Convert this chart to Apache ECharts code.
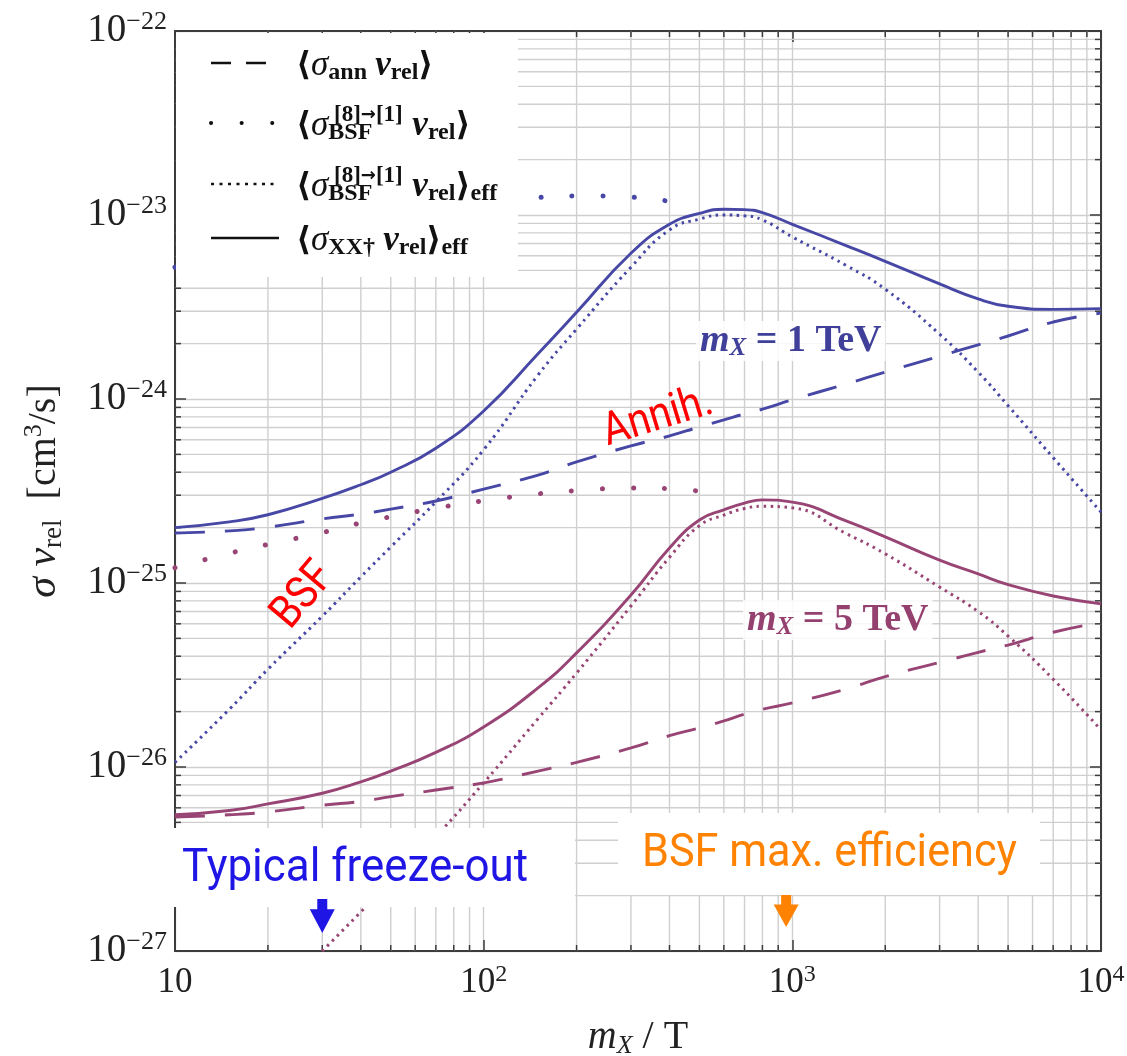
<!DOCTYPE html>
<html>
<head>
<meta charset="utf-8">
<script src="https://cdn.jsdelivr.net/npm/echarts@6/dist/echarts.min.js"></script>
<style>
  html, body { margin: 0; padding: 0; background: #fff; }
  #chart { width: 1127px; height: 1056px; }
</style>
</head>
<body>
<div id="chart"></div>
<script>
(function (echarts) {
    'use strict';

    // m_X / T sample points
    const mxOverT = [10, 15, 20, 30, 40, 50, 70, 100, 150, 200, 300, 400, 500, 600, 700, 800, 1000, 1500, 2000, 3000, 4000, 5000, 7000, 10000];

    // m_X = 1 TeV, cm^3/s
    const annih1TeV = [1.87e-25, 1.92e-25, 2.01e-25, 2.23e-25, 2.37e-25, 2.52e-25, 2.79e-25, 3.24e-25, 3.86e-25, 4.55e-25, 5.56e-25, 6.3e-25, 7.05e-25, 7.7e-25, 8.3e-25, 8.8e-25, 9.9e-25, 1.21e-24, 1.40e-24, 1.71e-24, 1.97e-24, 2.2e-24, 2.62e-24, 2.93e-24];
    const bsfEff1TeV = [1.06e-26, 2.06e-26, 3.4e-26, 6.6e-26, 1.08e-25, 1.57e-25, 2.76e-25, 5.3e-25, 1.35e-24, 2.4e-24, 5.2e-24, 8.3e-24, 9.5e-24, 1.0e-23, 9.9e-24, 9.4e-24, 7.6e-24, 5.3e-24, 3.95e-24, 2.25e-24, 1.4e-24, 9.2e-25, 4.8e-25, 2.43e-25];
    const total1TeV = [2.0e-25, 2.15e-25, 2.35e-25, 2.88e-25, 3.42e-25, 4.0e-25, 5.4e-25, 8.6e-25, 1.76e-24, 2.96e-24, 6.2e-24, 8.9e-24, 1.02e-23, 1.075e-23, 1.07e-23, 1.03e-23, 8.9e-24, 6.8e-24, 5.6e-24, 4.22e-24, 3.5e-24, 3.19e-24, 3.07e-24, 3.1e-24];
    const mxBare1TeV = [10, 15, 20, 30, 40, 50, 70, 100, 150, 200, 300, 400, 470];
    const bsfBare1TeV = [5.2e-24, 6.3e-24, 7.1e-24, 8.1e-24, 9.1e-24, 9.8e-24, 1.08e-23, 1.17e-23, 1.245e-23, 1.27e-23, 1.25e-23, 1.19e-23, 1.16e-23];

    // m_X = 5 TeV, cm^3/s
    const annih5TeV = [5.35e-27, 5.5e-27, 5.7e-27, 6.2e-27, 6.5e-27, 6.9e-27, 7.5e-27, 8.2e-27, 9.5e-27, 1.06e-26, 1.27e-26, 1.48e-26, 1.63e-26, 1.78e-26, 1.94e-26, 2.06e-26, 2.23e-26, 2.66e-26, 3.1e-26, 3.7e-26, 4.2e-26, 4.6e-26, 5.4e-26, 6.1e-26];
    const total5TeV = [5.5e-27, 5.8e-27, 6.3e-27, 7.2e-27, 8.3e-27, 9.5e-27, 1.2e-26, 1.65e-26, 2.69e-26, 4.17e-26, 8.6e-26, 1.55e-25, 2.2e-25, 2.5e-25, 2.72e-25, 2.83e-25, 2.75e-25, 2.17e-25, 1.78e-25, 1.33e-25, 1.12e-25, 9.8e-26, 8.5e-26, 7.7e-26];
    const mxEff5TeV = [30, 40, 50, 70, 100, 150, 200, 300, 400, 500, 600, 700, 800, 1000, 1500, 2000, 3000, 4000, 5000, 7000, 10000];
    const bsfEff5TeV = [1.0e-27, 1.63e-27, 2.4e-27, 4.2e-27, 8.2e-27, 1.83e-26, 3.24e-26, 7.5e-26, 1.38e-25, 2.05e-25, 2.34e-25, 2.54e-25, 2.61e-25, 2.56e-25, 1.85e-25, 1.44e-25, 9.5e-26, 7.0e-26, 5.15e-26, 3.0e-26, 1.59e-26];
    const mxBare5TeV = [10, 15, 20, 30, 40, 50, 70, 100, 150, 200, 300, 400, 500, 585];
    const bsfBare5TeV = [1.21e-25, 1.45e-25, 1.62e-25, 1.88e-25, 2.12e-25, 2.29e-25, 2.55e-25, 2.8e-25, 3.05e-25, 3.18e-25, 3.28e-25, 3.26e-25, 3.16e-25, 3.08e-25];

    // arrows marking freeze-out and BSF max. efficiency
    const arrowX = [30, 955];
    const arrowY = [1.55e-27, 1.65e-27];

    // tick labels
    const xTickExp = ['', '2', '3', '4'];
    const yTickExp = ['−27', '−26', '−25', '−24', '−23', '−22'];

    // y is plotted in units of 1e-27 cm^3/s (log axis rounding breaks below 1e-20)
    const yUnit = 1e-27;
    const xMin = 10, xMax = 1e4, yMin = 1, yMax = 1e5;

    const blue = '#4747a6';
    const magenta = '#984575';
    const gridColor = '#cfcfcf';
    const frameColor = '#3c3c3c';
    const serif = '"Liberation Serif", "DejaVu Serif", serif';
    const sans = 'Roboto, "Noto Sans", sans-serif';

    // minor ticks 2..9 in every decade
    const minorX = [], minorY = [];
    for (let e = 1; e < 4; e++) for (let k = 2; k < 10; k++) minorX.push(k * Math.pow(10, e));
    for (let e = 0; e < 5; e++) for (let k = 2; k < 10; k++) minorY.push(k * Math.pow(10, e));

    const pairs = (xs, ys) => xs.map((x, i) => [x, ys[i] / yUnit]);

    const measureCtx = document.createElement('canvas').getContext('2d');
    function fitScale(text, font, target) {
        measureCtx.font = font;
        return target / measureCtx.measureText(text).width;
    }

    function curve(name, xs, ys, color, style) {
        return {
            name: name,
            type: 'line',
            data: pairs(xs, ys),
            smooth: 0.5,
            symbol: 'none',
            silent: true,
            z: 3,
            lineStyle: Object.assign({color: color, width: 2.9}, style)
        };
    }
    const dashed = {type: [30, 20]};
    const dotted = {type: [2.5, 4.5], width: 3};
    const sparse = {type: [0.1, 31], cap: 'round', width: 5};

    // minor grid lines plus inward minor ticks on all four sides
    function minorRender(vertical) {
        return function (params, api) {
            const v = api.value(vertical ? 0 : 1);
            const a = vertical ? api.coord([v, yMin]) : api.coord([xMin, v]);
            const b = vertical ? api.coord([v, yMax]) : api.coord([xMax, v]);
            const t = 6;
            const tick = {stroke: frameColor, lineWidth: 1.5};
            return {
                type: 'group',
                children: [
                    {type: 'line', shape: {x1: a[0], y1: a[1], x2: b[0], y2: b[1]}, style: {stroke: gridColor, lineWidth: 1.4}},
                    {type: 'line', shape: vertical ? {x1: a[0], y1: a[1], x2: a[0], y2: a[1] - t} : {x1: a[0], y1: a[1], x2: a[0] + t, y2: a[1]}, style: tick},
                    {type: 'line', shape: vertical ? {x1: b[0], y1: b[1], x2: b[0], y2: b[1] + t} : {x1: b[0], y1: b[1], x2: b[0] - t, y2: b[1]}, style: tick}
                ]
            };
        };
    }

    const axisLine = {show: true, lineStyle: {color: frameColor, width: 2}};
    const axisTick = {show: true, inside: true, length: 11, lineStyle: {color: frameColor, width: 1.5}};
    const splitLine = {show: true, lineStyle: {color: gridColor, width: 1.4}};

    const legendRows = [
        {y: 63, dash: [20, 15], width: 2.5, cap: 'butt', x2: 266,
            text: '{a|⟨}{s|σ}{b|ann}{a| }{v|v}{b|rel}{a|⟩}'},
        {y: 123, dash: [0.1, 30.5], width: 4, cap: 'round', x2: 274, sup: true,
            text: '{a|⟨}{s|σ}{b|BSF}{g| }{v|v}{b|rel}{a|⟩}'},
        {y: 184, dash: [3, 5.5], width: 2.5, cap: 'butt', x2: 276, sup: true,
            text: '{a|⟨}{s|σ}{b|BSF}{g| }{v|v}{b|rel}{a|⟩}{b|eff}'},
        {y: 238, dash: null, width: 2.5, cap: 'butt', x2: 279,
            text: '{a|⟨}{s|σ}{b|XX†}{a| }{v|v}{b|rel}{a|⟩}{b|eff}'}
    ];
    const legendRich = {
        a: {fontFamily: serif, fontSize: 33, fontWeight: 'bold', lineHeight: 38, fill: '#111'},
        s: {fontFamily: serif, fontSize: 35, fontStyle: 'italic', lineHeight: 38, fill: '#111'},
        v: {fontFamily: serif, fontSize: 35, fontStyle: 'italic', fontWeight: 'bold', lineHeight: 38, fill: '#111'},
        b: {fontFamily: serif, fontSize: 24, fontWeight: 'bold', lineHeight: 18, verticalAlign: 'bottom', fill: '#111'},
        g: {fontSize: 10, width: 40, lineHeight: 38}
    };
    const supRich = {
        d: {fontFamily: serif, fontSize: 23, fontWeight: 'bold', fill: '#111'},
        r: {fontFamily: '"DejaVu Sans", sans-serif', fontSize: 18, fontWeight: 'bold', fill: '#111'}
    };

    const graphics = [
        {type: 'rect', z: 50, silent: true, shape: {x: 176, y: 33, width: 342, height: 244}, style: {fill: '#fff'}}
    ];
    legendRows.forEach(function (row) {
        graphics.push({
            type: 'line', z: 51, silent: true,
            shape: {x1: 211, y1: row.y, x2: row.x2, y2: row.y},
            style: {stroke: '#111', lineWidth: row.width, lineDash: row.dash, lineCap: row.cap}
        });
        graphics.push({
            type: 'text', z: 51, silent: true, x: 296, y: row.y + 3,
            style: {text: row.text, rich: legendRich, align: 'left', verticalAlign: 'middle', textAlign: 'left', textVerticalAlign: 'middle'}
        });
        if (row.sup) {
            graphics.push({
                type: 'text', z: 51, silent: true, x: 334, y: row.y - 8,
                style: {text: '{d|[8]}{r|→}{d|[1]}', rich: supRich,
                    align: 'left', verticalAlign: 'middle', textAlign: 'left', textVerticalAlign: 'middle'}
            });
        }
    });

    function massLabel(text, color, x, y) {
        return {
            type: 'text', z: 52, silent: true, x: x, y: y,
            style: {
                text: text,
                rich: {
                    m: {fontFamily: serif, fontSize: 38, fontStyle: 'italic', fontWeight: 'bold', lineHeight: 40, fill: color},
                    x: {fontFamily: serif, fontSize: 25, fontStyle: 'italic', fontWeight: 'bold', lineHeight: 18, verticalAlign: 'bottom', fill: color},
                    t: {fontFamily: serif, fontSize: 38, fontWeight: 'bold', lineHeight: 40, fill: color}
                },
                backgroundColor: 'rgba(255,255,255,0.85)', padding: [0, 4],
                align: 'left', verticalAlign: 'middle', textAlign: 'left', textVerticalAlign: 'middle'
            }
        };
    }
    graphics.push(massLabel('{m|m}{x|X}{t| = 1 TeV}', '#40409a', 696, 341));
    graphics.push(massLabel('{m|m}{x|X}{t| = 5 TeV}', '#95416f', 743, 620));

    const redFont = 'normal 46px ' + sans;
    function redText(text, cx, cy, deg) {
        return {
            type: 'text', z: 52, silent: true, x: cx, y: cy,
            rotation: deg * Math.PI / 180, scaleX: 0.87,
            style: {text: text, font: redFont, fill: '#ff0000',
                align: 'center', verticalAlign: 'middle', textAlign: 'center', textVerticalAlign: 'middle'}
        };
    }
    graphics.push(redText('Annih.', 658, 418, 17));
    graphics.push(redText('BSF', 304, 596, 50));

    function boxNote(text, color, box, textX, textY, textW) {
        const font = 'normal 47px ' + sans;
        return [
            {type: 'rect', z: 60, silent: true, shape: box, style: {fill: '#fff'}},
            {type: 'text', z: 61, silent: true, x: textX, y: textY, scaleX: fitScale(text, font, textW),
                style: {text: text, font: font, fill: color,
                    align: 'left', verticalAlign: 'middle', textAlign: 'left', textVerticalAlign: 'middle'}}
        ];
    }
    graphics.push.apply(graphics, boxNote('Typical freeze-out', '#1f16e6', {x: 172, y: 828, width: 403, height: 79}, 182, 869, 346));
    graphics.push.apply(graphics, boxNote('BSF max. efficiency', '#ff8200', {x: 618, y: 813, width: 422, height: 82}, 642, 854, 375));

    const option = {
        animation: false,
        backgroundColor: '#fff',
        grid: {left: 175, right: 26, top: 31, bottom: 105, containLabel: false, outerBoundsMode: 'none'},
        xAxis: [{
            type: 'log', logBase: 10, min: xMin, max: xMax, position: 'bottom',
            axisLine: axisLine, axisTick: axisTick, splitLine: splitLine,
            axisLabel: {
                margin: 12,
                formatter: function (v, i) {
                    return xTickExp[i] ? '{b|10}{e|' + xTickExp[i] + '}' : '{b|10}';
                },
                rich: {
                    b: {fontFamily: serif, fontSize: 35, lineHeight: 40, color: '#222'},
                    e: {fontFamily: serif, fontSize: 24, lineHeight: 24, verticalAlign: 'top', color: '#222'}
                }
            },
            name: '{m|m}{x|X}{n| / T}',
            nameLocation: 'middle', nameGap: 64, nameMoveOverlap: false,
            nameTextStyle: {
                rich: {
                    m: {fontFamily: serif, fontSize: 40, fontStyle: 'italic', lineHeight: 44, color: '#222'},
                    x: {fontFamily: serif, fontSize: 26, fontStyle: 'italic', lineHeight: 22, verticalAlign: 'bottom', color: '#222'},
                    n: {fontFamily: serif, fontSize: 40, lineHeight: 44, color: '#222'}
                }
            }
        }, {
            type: 'log', logBase: 10, min: xMin, max: xMax, position: 'top',
            axisLine: axisLine, axisTick: axisTick, splitLine: {show: false}, axisLabel: {show: false}
        }],
        yAxis: [{
            type: 'log', logBase: 10, min: yMin, max: yMax, position: 'left',
            axisLine: axisLine, axisTick: axisTick, splitLine: splitLine,
            axisLabel: {
                margin: 8,
                formatter: function (v, i) {
                    return '{b|10}{e|' + yTickExp[i] + '}';
                },
                rich: {
                    b: {fontFamily: serif, fontSize: 39, lineHeight: 44, color: '#222'},
                    e: {fontFamily: serif, fontSize: 26, lineHeight: 26, verticalAlign: 'top', color: '#222'}
                }
            },
            name: '{s|σ }{v|v}{r|rel}{n|  [cm}{p|3}{n|/s]}',
            nameLocation: 'middle', nameGap: 108, nameRotate: 90, nameMoveOverlap: false,
            nameTextStyle: {
                rich: {
                    s: {fontFamily: serif, fontSize: 42, fontStyle: 'italic', lineHeight: 46, color: '#222'},
                    v: {fontFamily: serif, fontSize: 42, fontStyle: 'italic', lineHeight: 46, color: '#222'},
                    r: {fontFamily: serif, fontSize: 27, lineHeight: 22, verticalAlign: 'bottom', color: '#222'},
                    n: {fontFamily: serif, fontSize: 40, lineHeight: 46, color: '#222'},
                    p: {fontFamily: serif, fontSize: 26, lineHeight: 26, verticalAlign: 'top', color: '#222'}
                }
            }
        }, {
            type: 'log', logBase: 10, min: yMin, max: yMax, position: 'right',
            axisLine: axisLine, axisTick: axisTick, splitLine: {show: false}, axisLabel: {show: false}
        }],
        series: [
            {
                name: 'minor x', type: 'custom', silent: true, z: 1,
                data: minorX.map(x => [x, yMin]), encode: {x: 0, y: 1},
                renderItem: minorRender(true)
            },
            {
                name: 'minor y', type: 'custom', silent: true, z: 1,
                data: minorY.map(y => [xMin, y]), encode: {x: 0, y: 1},
                renderItem: minorRender(false)
            },
            curve('annih 1 TeV', mxOverT, annih1TeV, blue, dashed),
            curve('BSF bare 1 TeV', mxBare1TeV, bsfBare1TeV, blue, sparse),
            curve('BSF eff 1 TeV', mxOverT, bsfEff1TeV, blue, dotted),
            curve('total 1 TeV', mxOverT, total1TeV, blue, {}),
            curve('annih 5 TeV', mxOverT, annih5TeV, magenta, dashed),
            curve('BSF bare 5 TeV', mxBare5TeV, bsfBare5TeV, magenta, sparse),
            curve('BSF eff 5 TeV', mxEff5TeV, bsfEff5TeV, magenta, dotted),
            curve('total 5 TeV', mxOverT, total5TeV, magenta, {}),
            {
                name: 'arrows', type: 'scatter', silent: true, z: 70,
                symbol: 'path://M3,0 L7,0 L7,3 L10,3 L5,10 L0,3 L3,3 Z',
                data: [
                    {value: [arrowX[0], arrowY[0] / yUnit], symbolSize: [25, 34], itemStyle: {color: '#1f16e6', opacity: 1}},
                    {value: [arrowX[1], arrowY[1] / yUnit], symbolSize: [25, 32], itemStyle: {color: '#ff8200', opacity: 1}}
                ]
            }
        ],
        graphic: graphics
    };

    const chart = echarts.init(document.getElementById('chart'));
    chart.setOption(option);

})(echarts);
</script>
</body>
</html>
